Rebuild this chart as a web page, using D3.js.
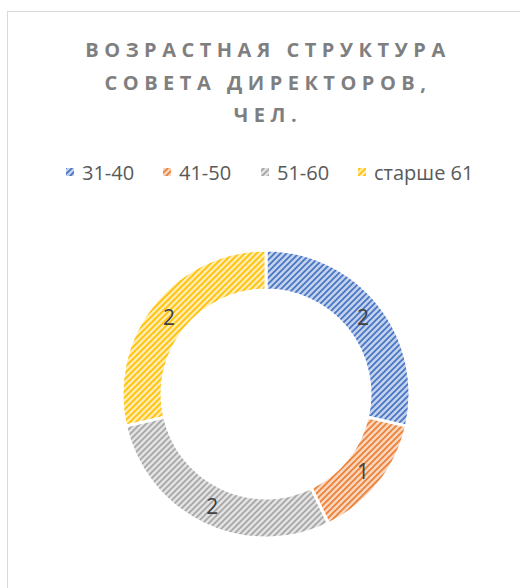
<!DOCTYPE html>
<html>
<head>
<meta charset="utf-8">
<script src="https://cdn.jsdelivr.net/npm/d3@7"></script>
<style>
  html, body { margin: 0; padding: 0; background: #fff; overflow: hidden; }
  svg { display: block; }
</style>
</head>
<body>
<svg id="chart" width="520" height="588"></svg>
<script>
// age groups of the board and number of people in each
const categories = ["31-40", "41-50", "51-60", "старше 61"];
const values = [2, 1, 2, 2];
const colors = ["#4472C4", "#ED7D31", "#A5A5A5", "#FFC000"];
const titleLines = ["ВОЗРАСТНАЯ СТРУКТУРА", "СОВЕТА ДИРЕКТОРОВ,", "ЧЕЛ."];

const svg = d3.select("#chart");
const cx = 266, cy = 394;
const outerR = 144, innerR = 104;

// chart area border (runs off the right and bottom edges)
svg.append("rect")
    .attr("x", 7.5)
    .attr("y", 11.5)
    .attr("width", 540)
    .attr("height", 600)
    .attr("fill", "#fff")
    .attr("stroke", "#d9d9d9")
    .attr("stroke-width", 1);

// hatch patterns, one per series
const defs = svg.append("defs");
colors.forEach((c, i) => {
    const p = defs.append("pattern")
        .attr("id", "hatch-" + i)
        .attr("patternUnits", "userSpaceOnUse")
        .attr("width", 6)
        .attr("height", 6);
    p.append("rect")
        .attr("width", 6)
        .attr("height", 6)
        .attr("fill", d3.interpolateRgb(c, "#fff")(0.68));
    p.append("path")
        .attr("d", "M0,6 L6,0 M-1.5,1.5 L1.5,-1.5 M4.5,7.5 L7.5,4.5")
        .attr("stroke", c)
        .attr("stroke-width", 1.6)
        .attr("stroke-linecap", "square");
});

// title
const title = svg.append("g")
    .attr("fill", "#7f7f7f")
    .attr("font-family", "'Open Sans', sans-serif")
    .attr("font-weight", 700)
    .attr("font-size", "20px")
    .attr("letter-spacing", "5.5px");
titleLines.forEach((t, i) => {
    title.append("text")
        .attr("x", 268)
        .attr("y", 57 + i * 32.5)
        .attr("text-anchor", "middle")
        .text(t);
});

// legend
const legendX = [66, 163, 261, 358];
const legend = svg.append("g")
    .attr("font-family", "'Open Sans', sans-serif")
    .attr("font-size", "20px")
    .attr("fill", "#595959");
categories.forEach((c, i) => {
    legend.append("rect")
        .attr("x", legendX[i])
        .attr("y", 168)
        .attr("width", 8)
        .attr("height", 8)
        .attr("fill", "url(#hatch-" + i + ")");
    legend.append("text")
        .attr("x", legendX[i] + 16)
        .attr("y", 172)
        .attr("dominant-baseline", "central")
        .text(c);
});

// donut
const pie = d3.pie().sort(null).value(d => d);
const arc = d3.arc().innerRadius(innerR).outerRadius(outerR);
const labelArc = d3.arc().innerRadius((innerR + outerR) / 2).outerRadius((innerR + outerR) / 2);

const donut = svg.append("g")
    .attr("transform", `translate(${cx},${cy})`);

donut.selectAll("path")
    .data(pie(values))
    .join("path")
    .attr("d", arc)
    .attr("fill", (d, i) => "url(#hatch-" + i + ")")
    .attr("stroke", "#fff")
    .attr("stroke-width", 3);

donut.selectAll("text")
    .data(pie(values))
    .join("text")
    .attr("transform", d => `translate(${labelArc.centroid(d)})`)
    .attr("text-anchor", "middle")
    .attr("dominant-baseline", "central")
    .attr("font-family", "'Open Sans', sans-serif")
    .attr("font-size", "21px")
    .attr("fill", "#404040")
    .text(d => d.data);
</script>
</body>
</html>
